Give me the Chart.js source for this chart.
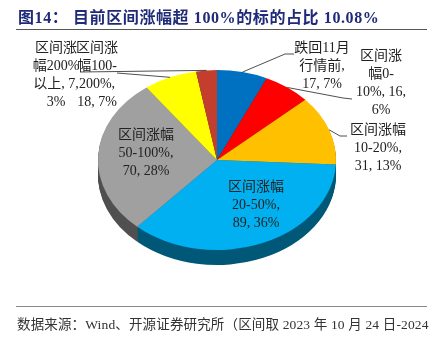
<!DOCTYPE html>
<html>
<head>
<meta charset="utf-8">
<script src="https://cdn.jsdelivr.net/npm/chart.js@4.4.1/dist/chart.umd.min.js"></script>
<style>
  html, body { margin: 0; padding: 0; background: #fff; }
  #wrap { position: relative; width: 436px; height: 337px; overflow: hidden; }
  #title { position: absolute; left: 18px; top: 4px; font: bold 16px "Liberation Serif", "Noto Sans CJK SC", serif; letter-spacing: 0.6px; color: #1f2a78; white-space: nowrap; }
  .rule { position: absolute; left: 16px; width: 411px; height: 0; border-top: 1.5px solid #555; }
  #source { position: absolute; left: 17px; top: 313px; font: 13.5px "Liberation Serif", "Noto Sans CJK SC", serif; letter-spacing: 0.15px; color: #333; white-space: nowrap; }
  canvas { position: absolute; left: 0; top: 0; }
</style>
</head>
<body>
<div id="wrap">
  <canvas id="pie" width="436" height="337"></canvas>
  <div id="title">图14： 目前区间涨幅超 100%的标的占比 10.08%</div>
  <div class="rule" style="top:29px"></div>
  <div class="rule" style="top:306px; border-top-color:#888"></div>
  <div id="source">数据来源：Wind、开源证券研究所（区间取 2023 年 10 月 24 日-2024</div>
</div>
<script>
// ============== 数据 ==============
const categories = ['跌回11月行情前', '区间涨幅0-10%', '区间涨幅10-20%', '区间涨幅20-50%', '区间涨幅50-100%', '区间涨幅100-200%', '区间涨幅200%以上'];
const counts = [17, 16, 31, 89, 70, 18, 7];
const percents = [7, 6, 13, 36, 28, 7, 3];

// ============== 样式 ==============
const colors = ['#0070C0', '#FF0000', '#FFC000', '#00B0F0', '#A0A0A0', '#FFFF00', '#C43E2E'];
const SQUASH = 0.756;
const DEPTH = 15;
const FONT = '14px "Liberation Serif", "Noto Sans CJK SC", serif';
// 标签位置: 文字中心 x, 首行 y, 换行宽度, 引线折点
const labelLayout = [
  { x: 322, y: 48, w: 58, line: [[285, 54], [294, 54]] },
  { x: 381, y: 56, w: 52, line: [[343, 98], [352, 99]] },
  { x: 378, y: 130, w: 60, line: [[340, 136], [347, 136]] },
  { x: 256, y: 187, w: 60 },
  { x: 146, y: 135, w: 62 },
  { x: 97, y: 48, w: 50, line: [[117, 73]] },
  { x: 56, y: 48, w: 50, line: [[80, 72]] },
];

function darken(hex, f) {
  const n = parseInt(hex.slice(1), 16);
  const r = Math.round((n >> 16 & 255) * f), g = Math.round((n >> 8 & 255) * f), b = Math.round((n & 255) * f);
  return `rgb(${r},${g},${b})`;
}
const sideColors = colors.map(c => darken(c, 0.5));

// ============== 3D 饼图 ==============
function squash(ctx, cx, cy, dy) {
  ctx.translate(cx, cy + dy);
  ctx.scale(1, SQUASH);
  ctx.translate(-cx, -cy);
}

const pie3d = {
  id: 'pie3d',
  beforeDatasetsDraw(chart) {
    const { ctx } = chart;
    const arcs = chart.getDatasetMeta(0).data;
    const cx = arcs[0].x, cy = arcs[0].y;
    for (let d = DEPTH; d >= 1; d--) {
      ctx.save();
      squash(ctx, cx, cy, d);
      arcs.forEach((arc, i) => {
        const side = Object.create(arc);
        side.options = Object.assign({}, arc.options, { backgroundColor: sideColors[i], borderWidth: 0 });
        side.draw(ctx);
      });
      ctx.restore();
    }
    ctx.save();
    squash(ctx, cx, cy, 0);
    arcs.forEach(arc => arc.draw(ctx));
    ctx.restore();
    return false;
  },
};

// ============== 标签 ==============
function tokenize(s) {
  const isCJK = (c) => /[\u3400-\u9fff]/.test(c);
  const out = [];
  let cur = '';
  for (const ch of s) {
    if (isCJK(ch) || (cur && isCJK(cur.slice(-1)) && /[0-9A-Za-z]/.test(ch))) {
      if (cur) out.push(cur);
      cur = ch;
      continue;
    }
    cur += ch;
    if (ch === '-' || ch === ' ') { out.push(cur); cur = ''; }
  }
  if (cur) out.push(cur);
  return out;
}

function wrap(ctx, text, maxW) {
  const lines = [];
  let line = '';
  for (const t of tokenize(text)) {
    const test = line + t;
    if (line && ctx.measureText(test.trimEnd()).width > maxW) {
      lines.push(line.trimEnd());
      line = t;
    } else line = test;
  }
  if (line) lines.push(line.trimEnd());
  return lines;
}

const pieLabels = {
  id: 'pieLabels',
  afterDraw(chart) {
    const { ctx } = chart;
    const arcs = chart.getDatasetMeta(0).data;
    ctx.save();
    ctx.font = FONT;
    ctx.fillStyle = '#222';
    ctx.strokeStyle = '#222';
    ctx.lineWidth = 0.8;
    ctx.textAlign = 'center';
    ctx.textBaseline = 'middle';
    arcs.forEach((arc, i) => {
      const L = labelLayout[i];
      if (L.line) {
        const mid = (arc.startAngle + arc.endAngle) / 2;
        const r = arc.outerRadius;
        ctx.beginPath();
        ctx.moveTo(arc.x + Math.cos(mid) * r, arc.y + Math.sin(mid) * r * SQUASH);
        L.line.forEach(p => ctx.lineTo(p[0], p[1]));
        ctx.stroke();
      }
      const text = `${categories[i]}, ${counts[i]}, ${percents[i]}%`;
      wrap(ctx, text, L.w).forEach((ln, k) => ctx.fillText(ln, L.x, L.y + k * 18));
    });
    ctx.restore();
  },
};

new Chart(document.getElementById('pie'), {
  type: 'pie',
  data: {
    labels: categories,
    datasets: [{ data: counts, backgroundColor: colors, borderWidth: 0 }],
  },
  options: {
    responsive: false,
    animation: false,
    layout: { padding: { left: 98, right: 100, top: 41, bottom: 58 } },
    plugins: { legend: { display: false }, tooltip: { enabled: false } },
  },
  plugins: [pie3d, pieLabels],
});
</script>
</body>
</html>
